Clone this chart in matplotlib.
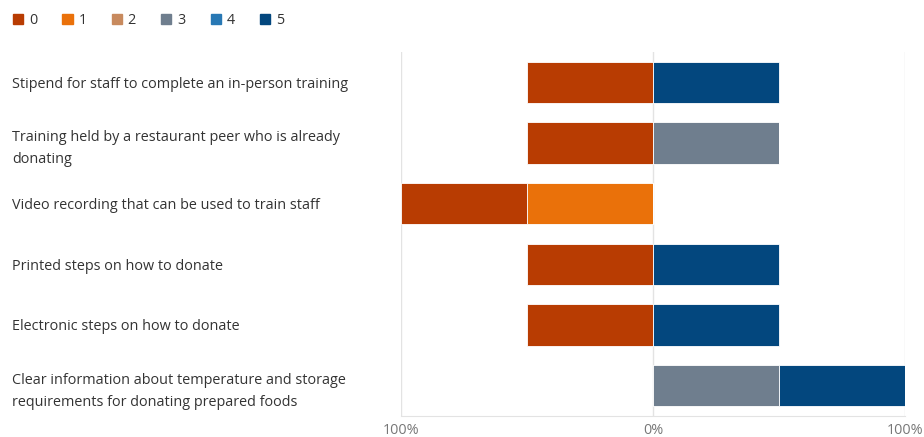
import matplotlib
matplotlib.use("Agg")
from matplotlib import pyplot as plt
from matplotlib.patches import Patch

plt.rcParams['font.family'] = ['Open Sans', 'DejaVu Sans']

# data (share of responses, negative side = scores 0-2, positive = 3-5)
questions = [
    "Stipend for staff to complete an in-person training",
    "Training held by a restaurant peer who is already\ndonating",
    "Video recording that can be used to train staff",
    "Printed steps on how to donate",
    "Electronic steps on how to donate",
    "Clear information about temperature and storage\nrequirements for donating prepared foods",
]
scores = ['0', '1', '2', '3', '4', '5']
s0 = [50, 50, 50, 50, 50, 0]
s1 = [0, 0, 50, 0, 0, 0]
s2 = [0, 0, 0, 0, 0, 0]
s3 = [0, 50, 0, 0, 0, 50]
s4 = [0, 0, 0, 0, 0, 0]
s5 = [50, 0, 0, 50, 50, 50]
tick_vals = [-100, 0, 100]
tick_labels = ['100%', '0%', '100%']

colors = ['#B83C02', '#EA710A', '#C88A5E', '#6F7E8E', '#2878B4', '#03477E']

fig = plt.figure(figsize=(9.24, 4.37), dpi=100)
ax = fig.add_axes([401 / 924, 21 / 437, 504 / 924, 364 / 437])

y = list(range(len(questions)))
h = 0.68
# negative side stacks outward from zero: 2, 1, 0
neg = [s2, s1, s0]
neg_cols = [colors[2], colors[1], colors[0]]
left = [0] * len(y)
for vals, c in zip(neg, neg_cols):
    ax.barh(y, [-v for v in vals], left=left, height=h, color=c,
            edgecolor='white', linewidth=0.6)
    left = [l - v for l, v in zip(left, vals)]
pos = [s3, s4, s5]
pos_cols = [colors[3], colors[4], colors[5]]
left = [0] * len(y)
for vals, c in zip(pos, pos_cols):
    ax.barh(y, vals, left=left, height=h, color=c,
            edgecolor='white', linewidth=0.6)
    left = [l + v for l, v in zip(left, vals)]

ax.set_xlim(-100, 100)
ax.set_ylim(len(y) - 0.5, -0.5)
ax.set_xticks(tick_vals)
ax.set_xticklabels(tick_labels, color='#777777', fontsize=10.4)
ax.set_yticks(y)
ax.set_yticklabels(questions, fontsize=10.4, color='#333333', ha='left',
                   linespacing=1.65)
# pad in points: label starts 12 px from the figure edge
ax.tick_params(axis='y', length=0, pad=(401 - 12) * 72 / 100)
ax.tick_params(axis='x', length=0, pad=5)
ax.grid(axis='x', color='#e3e3e3', linewidth=1)
ax.set_axisbelow(True)
for side in ['top', 'left', 'right']:
    ax.spines[side].set_visible(False)
ax.spines['bottom'].set_color('#e3e3e3')

handles = [Patch(color=c, label=s) for c, s in zip(colors, scores)]
fig.legend(handles=handles, loc='upper left', bbox_to_anchor=(0.0, 1.0), ncol=6,
           frameon=False, fontsize=10.4, handlelength=0.7, handleheight=0.7,
           handletextpad=0.4, columnspacing=1.75, labelcolor='#333333')

fig.savefig('out.png', dpi=100)
